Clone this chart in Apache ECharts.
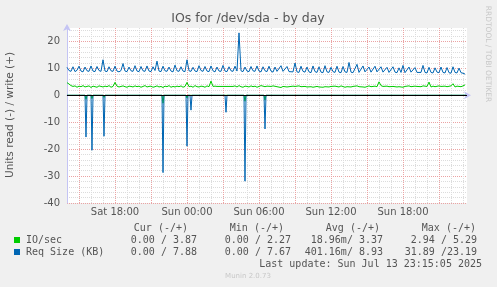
<!DOCTYPE html>
<html>
<head>
<meta charset="utf-8">
<script src="https://cdn.jsdelivr.net/npm/echarts@6.0.0/dist/echarts.min.js"></script>
<style>
  html, body { margin: 0; padding: 0; background: #f0f0f0; }
  #main { width: 497px; height: 287px; }
</style>
</head>
<body>
<div id="main"></div>
<script>
// time axis in hours since Sat 00:00, one sample every 10 minutes from Sat 14:00
var _start = 14;
var _step = 1 / 6;

// IO/sec, write (+)
var ioWrite = [
  4.7, 4.2, 3.6, 3.3, 3.5, 3.0, 3.4, 3.2, 3.6, 3.1, 3.3, 3.5, 2.9, 3.4, 3.2, 3.0, 3.5, 3.3, 3.1, 3.4,
  3.2, 3.6, 3.0, 3.3, 4.8, 3.4, 3.1, 3.3, 3.5, 3.2, 3.0, 3.4, 3.3, 3.1, 3.5, 3.2, 3.4, 3.0, 3.3, 3.6,
  3.1, 3.3, 3.4, 3.0, 3.2, 3.5, 3.1, 3.3, 2.9, 3.4, 3.2, 3.6, 3.0, 3.3, 3.1, 3.4, 3.2, 3.5, 3.0, 3.3,
  4.8, 3.2, 3.4, 3.0, 3.6, 3.2, 3.1, 3.4, 3.3, 3.0, 3.5, 3.2, 5.29, 3.3, 3.4, 3.3, 3.3, 3.3, 3.3, 3.3,
  3.3, 3.3, 3.3, 3.3, 3.5, 3.1, 3.6, 3.2, 3.0, 3.4, 3.3, 3.1, 3.5, 3.2, 3.4, 3.0, 3.3, 3.6, 3.1, 3.2,
  3.4, 3.0, 3.3, 3.5, 3.1, 3.2, 3.4, 2.9, 3.3, 3.5, 3.1, 3.2, 3.0, 3.4, 3.3, 3.1, 3.5, 3.2, 2.8, 3.3,
  3.1, 3.4, 3.2, 3.0, 3.5, 3.3, 3.1, 3.4, 3.0, 3.2, 3.6, 3.1, 3.3, 3.0, 3.4, 3.2, 3.1, 3.5, 3.3, 3.0,
  3.2, 3.4, 3.1, 3.3, 3.0, 3.5, 3.2, 3.4, 3.1, 3.0, 3.3, 3.5, 3.2, 3.1, 3.4, 3.2, 5.0, 3.6, 3.3, 3.1,
  3.4, 3.2, 3.0, 3.3, 3.5, 3.1, 3.2, 3.4, 3.0, 3.3, 3.1, 3.5, 3.2, 3.0, 3.4, 3.3, 3.1, 3.2, 3.5, 3.0,
  3.3, 4.9, 3.1, 3.4, 3.2, 3.0, 3.5, 3.3, 3.1, 3.4, 3.2, 3.1, 3.5, 4.3, 3.1, 3.4, 3.6, 3.2, 3.5, 3.87
];

// Req Size (KB), write (+)
var reqWrite = [
  10.4, 9.2, 8.9, 10.6, 8.8, 9.3, 10.8, 9.0, 8.7, 10.5, 9.1, 8.9, 10.9, 9.0, 8.8, 10.7, 9.2, 8.9, 13.2, 9.0,
  8.8, 10.6, 9.1, 8.9, 10.8, 9.0, 8.7, 9.2, 11.8, 9.0, 8.8, 10.5, 9.1, 8.9, 11.0, 9.0, 8.8, 10.7, 9.1, 8.9,
  10.9, 9.0, 8.8, 10.6, 9.2, 12.7, 9.0, 8.8, 10.8, 9.1, 8.9, 10.5, 9.0, 8.7, 11.2, 9.1, 8.9, 10.6, 9.0, 8.8,
  13.2, 9.1, 8.9, 10.4, 9.0, 8.8, 11.0, 9.2, 8.9, 10.7, 9.0, 8.8, 10.9, 9.1, 8.7, 10.5, 9.0, 8.9, 11.1, 9.0,
  8.8, 10.6, 9.1, 8.9, 10.8, 9.0, 23.19, 9.1, 8.8, 10.5, 9.0, 8.8, 10.7, 9.1, 8.9, 10.9, 9.0, 8.7, 10.6, 9.1,
  8.8, 10.8, 9.0, 8.6, 10.5, 8.9, 8.7, 11.0, 8.9, 8.6, 10.7, 8.8, 8.5, 8.7, 12.0, 8.7, 8.5, 10.8, 8.9, 8.6,
  10.5, 8.7, 8.4, 10.9, 8.8, 8.5, 10.6, 8.6, 8.4, 11.0, 8.7, 8.5, 10.4, 8.8, 8.5, 10.8, 8.6, 8.4, 10.7, 8.7,
  8.5, 12.2, 8.6, 8.4, 8.6, 11.5, 8.5, 8.4, 10.9, 8.7, 8.5, 10.5, 8.6, 8.4, 10.8, 8.7, 8.5, 10.6, 8.6, 8.4,
  10.4, 8.5, 8.3, 10.6, 8.6, 8.4, 10.2, 8.5, 11.1, 8.4, 8.3, 10.5, 8.6, 8.4, 10.3, 8.5, 8.3, 8.5, 11.1, 8.5,
  8.3, 10.4, 8.5, 8.3, 10.2, 8.6, 8.4, 10.5, 8.5, 8.3, 10.3, 8.4, 8.2, 10.6, 8.5, 8.3, 10.1, 8.4, 8.2, 7.88
];

// read (-) side: [hour, value] points, zero except the short bursts
var ioRead = [
  [14, 0], [15.5, 0], [15.583, -1.5], [15.667, 0], [16.0, 0], [16.083, -1.2], [16.167, 0],
  [17.0, 0], [17.083, -0.8], [17.167, 0], [21.917, 0], [22.0, -2.94], [22.083, 0],
  [23.917, 0], [24.0, -1.0], [24.083, 0], [24.25, 0], [24.333, -0.5], [24.417, 0],
  [27.167, 0], [27.25, -0.6], [27.333, 0], [28.75, 0], [28.833, -2.2], [28.917, 0],
  [30.417, 0], [30.5, -1.8], [30.583, 0], [47.25, 0]
];
var reqRead = [
  [14, 0], [15.5, 0], [15.583, -15.5], [15.667, 0], [16.0, 0], [16.083, -20.4], [16.167, 0],
  [17.0, 0], [17.083, -15.2], [17.167, 0], [21.917, 0], [22.0, -28.7], [22.083, 0],
  [23.917, 0], [24.0, -18.9], [24.083, 0], [24.25, 0], [24.333, -5.5], [24.417, 0],
  [27.167, 0], [27.25, -6.3], [27.333, 0], [28.75, 0], [28.833, -31.89], [28.917, 0],
  [30.417, 0], [30.5, -12.5], [30.583, 0], [47.25, 0]
];

var legendNames = ['IO/sec', 'Req Size (KB)'];
var legendColors = ['#00cc00', '#0066b3'];
var statHead = ['Cur (-/+)', 'Min (-/+)', 'Avg (-/+)', 'Max (-/+)'];
var statIo = ['0.00 / 3.87', '0.00 / 2.27', '18.96m/ 3.37', '2.94 / 5.29'];
var statReq = ['0.00 / 7.88', '0.00 / 7.67', '401.16m/ 8.93', '31.89 /23.19'];
var lastUpdate = 'Last update: Sun Jul 13 23:15:05 2025';

var toPairs = function(values) {
  var out = [];
  for (var i = 0; i < values.length; i++) {
    out.push([_start + i * _step, values[i]]);
  }
  return out;
};

var pad = function(n) {
  return n < 10 ? '0' + n : '' + n;
};

var MONO = '10px "DejaVu Sans Mono", monospace';
var TXT = '#555';
var GRID_MINOR = '#dcdcdc';
var GRID_MAJOR = '#eba3a3';

var buildGraphic = function() {
  var g = [];
  g.push({ type: 'text', x: 248, y: 19, style: { text: 'IOs for /dev/sda - by day', font: '12.5px "DejaVu Sans"', fill: TXT, align: 'center', verticalAlign: 'middle' } });
  g.push({ type: 'text', x: 10.5, y: 115, rotation: Math.PI / 2, style: { text: 'Units read (-) / write (+)', font: '10.5px "DejaVu Sans"', fill: TXT, align: 'center', verticalAlign: 'middle' } });
  g.push({ type: 'text', x: 488, y: 54, rotation: -Math.PI / 2, style: { text: 'RRDTOOL / TOBI OETIKER', font: '7.5px "DejaVu Sans"', fill: '#c8c8c8', align: 'center', verticalAlign: 'middle' } });

  var headRight = [188, 284, 380, 476];
  var valRight = [197, 291, 383, 477];
  for (var c = 0; c < statHead.length; c++) {
    g.push({ type: 'text', x: headRight[c], y: 228, style: { text: statHead[c], font: MONO, fill: TXT, align: 'right', verticalAlign: 'middle' } });
    g.push({ type: 'text', x: valRight[c], y: 240, style: { text: statIo[c], font: MONO, fill: TXT, align: 'right', verticalAlign: 'middle' } });
    g.push({ type: 'text', x: valRight[c], y: 252, style: { text: statReq[c], font: MONO, fill: TXT, align: 'right', verticalAlign: 'middle' } });
  }
  for (var r = 0; r < legendNames.length; r++) {
    g.push({ type: 'rect', shape: { x: 14, y: 237 + r * 12, width: 6, height: 6 }, style: { fill: legendColors[r] } });
    g.push({ type: 'text', x: 26, y: 240 + r * 12, style: { text: legendNames[r], font: MONO, fill: TXT, align: 'left', verticalAlign: 'middle' } });
  }
  g.push({ type: 'text', x: 482, y: 264, style: { text: lastUpdate, font: MONO, fill: TXT, align: 'right', verticalAlign: 'middle' } });
  g.push({ type: 'text', x: 248, y: 276, style: { text: 'Munin 2.0.73', font: '7px "DejaVu Sans"', fill: '#c8c8c8', align: 'center', verticalAlign: 'middle' } });
  return g;
};

var option = {
  backgroundColor: '#f0f0f0',
  animation: false,
  grid: { left: 67, right: 30, top: 28, bottom: 84, show: true, backgroundColor: '#ffffff', borderWidth: 0 },
  xAxis: {
    type: 'value',
    min: 14,
    max: 47.333,
    interval: 1,
    axisLine: { show: true, lineStyle: { color: '#c4c4f4', width: 1 }, symbol: ['none', 'arrow'], symbolSize: [6, 7], symbolOffset: [0, 4] },
    axisTick: { show: false },
    axisLabel: {
      color: TXT, fontSize: 10, fontFamily: 'DejaVu Sans', margin: 4, showMaxLabel: false,
      formatter: function(v) {
        var h = Math.round(v);
        if (h % 6 !== 0) return '';
        return (h < 24 ? 'Sat ' : 'Sun ') + pad(h % 24) + ':00';
      }
    },
    splitLine: { show: true, showMaxLine: false, lineStyle: { color: [GRID_MINOR, GRID_MAJOR, GRID_MINOR], type: [1, 1], width: 1 } }
  },
  yAxis: {
    type: 'value',
    min: -40,
    max: 25,
    interval: 2,
    axisLine: { show: true, lineStyle: { color: '#c4c4f4', width: 1 }, symbol: ['none', 'arrow'], symbolSize: [6, 7], symbolOffset: [0, 4] },
    axisTick: { show: false },
    axisLabel: {
      color: TXT, fontSize: 10, fontFamily: 'DejaVu Sans', margin: 7,
      formatter: function(v) {
        var n = Math.round(v);
        return (n % 10 === 0 && n < 25) ? '' + n : '';
      }
    },
    splitLine: { show: true, showMaxLine: false, lineStyle: { color: [GRID_MAJOR, GRID_MINOR, GRID_MINOR, GRID_MINOR, GRID_MINOR], type: [1, 1], width: 1 } }
  },
  series: [
    { name: 'IO/sec read', type: 'line', data: ioRead, showSymbol: false, lineStyle: { width: 1, color: '#00cc00' } },
    { name: 'IO/sec', type: 'line', data: toPairs(ioWrite), showSymbol: false, lineStyle: { width: 1, color: '#00cc00' } },
    { name: 'Req Size read', type: 'line', data: reqRead, showSymbol: false, lineStyle: { width: 1, color: '#0066b3' } },
    {
      name: 'Req Size (KB)', type: 'line', data: toPairs(reqWrite), showSymbol: false, lineStyle: { width: 1, color: '#0066b3' },
      markLine: { silent: true, symbol: ['none', 'none'], label: { show: false }, lineStyle: { color: '#000', width: 1, type: 'solid' }, data: [{ yAxis: 0 }] }
    }
  ],
  graphic: buildGraphic()
};

var chart = echarts.init(document.getElementById('main'));
chart.setOption(option);
</script>
</body>
</html>
